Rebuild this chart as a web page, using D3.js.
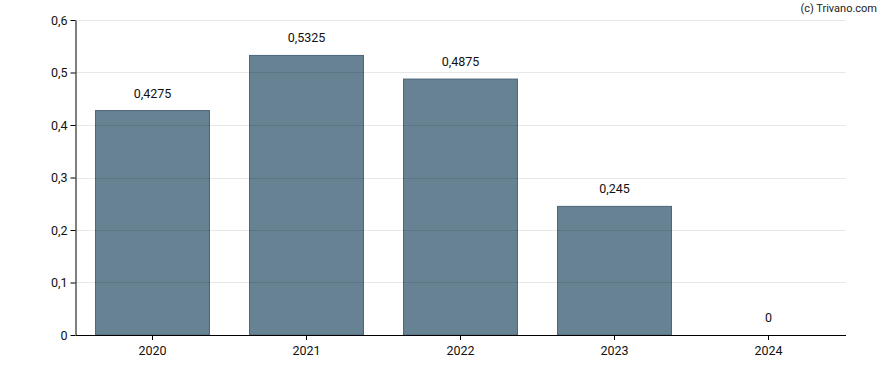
<!DOCTYPE html>
<html><head><meta charset="utf-8">
<script src="https://cdn.jsdelivr.net/npm/d3@7"></script>
<style>body{margin:0;background:#fff;} text{font-family:Roboto,"Liberation Sans",Arial,sans-serif;}</style>
</head><body><svg id="c" width="888" height="370"></svg>
<script>
const categories = ["2020","2021","2022","2023","2024"];
const values = [0.4275, 0.5325, 0.4875, 0.245, 0];
const labels = ["0,4275","0,5325","0,4875","0,245","0"];
const yTicks = [0,0.1,0.2,0.3,0.4,0.5,0.6];

(function(){
const svg = d3.select("#c");
const mLeft = 75.5, mRight = 845.5, mTop = 20, mBottom = 335;
const x = d3.scaleBand().domain(categories).range([mLeft,mRight]).paddingInner(0.26).paddingOuter(0.13);
const y = d3.scaleLinear().domain([0,0.6]).range([mBottom,mTop]);
const fmt = d => d === 0 ? "0" : d3.format(".1f")(d).replace(".", ",");

svg.append("g").selectAll("rect").data(values).join("rect")
  .attr("x",(d,i)=>x(categories[i])).attr("width",x.bandwidth())
  .attr("y",d=>y(d)).attr("height",d=>mBottom-y(d))
  .attr("fill","#678293").attr("stroke","#4c667a").attr("stroke-width",1)
  .attr("display",d=>d>0?null:"none");

svg.append("g").selectAll("line").data(yTicks.filter(d=>d>0)).join("line")
  .attr("x1",mLeft).attr("x2",mRight).attr("y1",d=>Math.round(y(d))+0.5).attr("y2",d=>Math.round(y(d))+0.5)
  .attr("stroke","rgba(0,0,0,0.09)").attr("stroke-width",1);

svg.append("g").selectAll("text").data(values).join("text")
  .attr("x",(d,i)=>x(categories[i])+x.bandwidth()/2).attr("y",d=>y(d)-13)
  .attr("text-anchor","middle").attr("font-size",12.5).attr("fill","#111")
  .text((d,i)=>labels[i]);

const ya = svg.append("g").attr("transform",`translate(${mLeft},0)`)
  .call(d3.axisLeft(y).tickValues(yTicks).tickFormat(fmt).tickSize(5).tickSizeOuter(0));
ya.select(".domain").attr("stroke","#000");
ya.selectAll("line").attr("stroke","#000");
ya.selectAll("text").attr("font-size",12.5).attr("fill","#111").attr("font-family","Roboto,sans-serif").attr("x",-8);

const xa = svg.append("g").attr("transform",`translate(0,${mBottom})`)
  .call(d3.axisBottom(x).tickSize(5).tickSizeOuter(0));
xa.select(".domain").attr("stroke","#000");
xa.selectAll("line").attr("stroke","#000");
xa.selectAll("text").attr("font-size",12.5).attr("fill","#111").attr("font-family","Roboto,sans-serif").attr("dy","0.92em");

svg.append("text").attr("x",877).attr("y",12).attr("text-anchor","end")
  .attr("font-size",11).attr("fill","#222").text("(c) Trivano.com");
})();
</script></body></html>
